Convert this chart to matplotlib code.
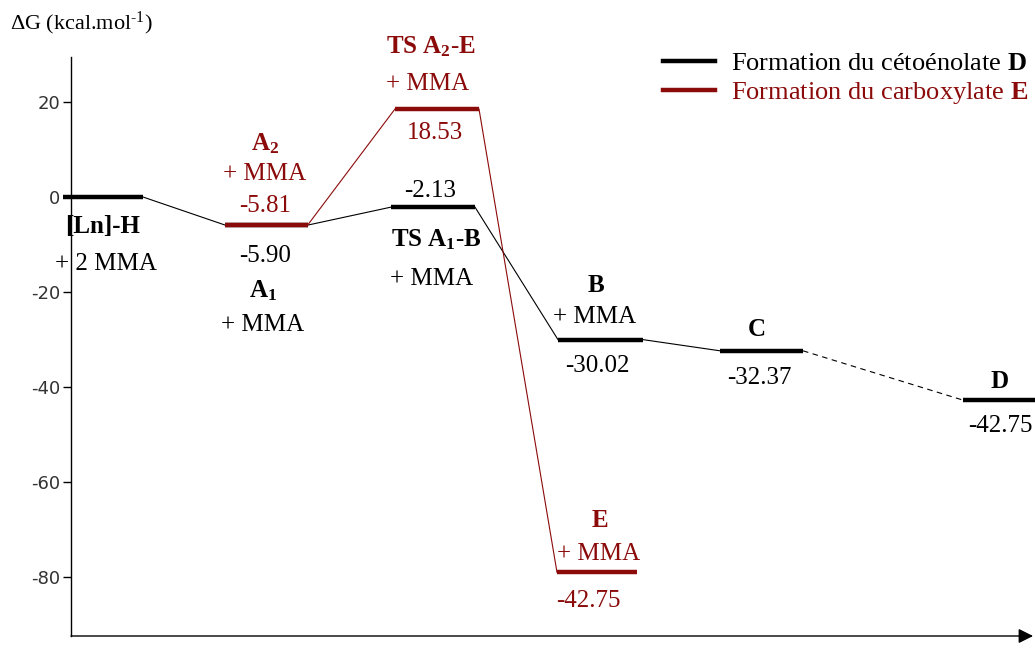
import matplotlib
matplotlib.use('Agg')
import matplotlib.pyplot as plt
from matplotlib.lines import Line2D

plt.rcParams['font.family'] = ['Liberation Serif', 'DejaVu Serif']
plt.rcParams['mathtext.fontset'] = 'custom'
plt.rcParams['mathtext.rm'] = 'Liberation Serif'
plt.rcParams['mathtext.bf'] = 'Liberation Serif:bold'
plt.rcParams['mathtext.it'] = 'Liberation Serif:italic'

RED = '#8b0a0a'

# energies (kcal/mol)
black_names = ['LnH', 'A1', 'TS_A1B', 'B', 'C', 'D']
black_energy = [0.0, -5.90, -2.13, -30.02, -32.37, -42.75]
red_names = ['A2', 'TS_A2E', 'E']
red_energy = [-5.81, 18.53, -79.0]
red_value_labels = ['-5.81', '18.53', '-42.75']
yticks = [20, 0, -20, -40, -60, -80]

# horizontal extent of each level (layout)
black_span = [(63, 143), (225, 308), (391, 475), (558, 643), (720, 803), (963, 1045)]
red_span = [(225, 308), (395, 479), (557, 637)]

fig = plt.figure(figsize=(10.35, 6.48), dpi=100)
ax = fig.add_axes([71 / 1035, 1 - 636 / 648, 964 / 1035, (636 - 57) / 648])
ax.set_xlim(71, 1035)
ax.set_ylim(-92.4, 29.47)

# levels
for (x0, x1), e in zip(black_span, black_energy):
    ax.plot([x0, x1], [e, e], color='black', lw=3.2, solid_capstyle='butt', clip_on=False, zorder=3)
for (x0, x1), e in zip(red_span, red_energy):
    ax.plot([x0, x1], [e, e], color=RED, lw=3.2, solid_capstyle='butt', clip_on=False, zorder=4)

# connectors
for i in range(len(black_energy) - 1):
    ls = '--' if black_names[i + 1] == 'D' else '-'
    ax.plot([black_span[i][1], black_span[i + 1][0]], [black_energy[i], black_energy[i + 1]],
            color='black', lw=0.8, ls=ls, dashes=(5, 4) if ls == '--' else (None, None), zorder=2)
for i in range(len(red_energy) - 1):
    ax.plot([red_span[i][1], red_span[i + 1][0]], [red_energy[i], red_energy[i + 1]],
            color=RED, lw=0.8, zorder=2)

fs = 18
def lab(x, y, s, color='black', bold=False):
    ax.text(x, y, s, ha='center', va='baseline', fontsize=fs, color=color,
            fontweight='bold' if bold else 'normal', clip_on=False)

# black labels
lab(103, -7.6, '[Ln]-H', bold=True)
lab(106, -15.4, '+ 2 MMA')
lab(265, -13.7, '%.2f' % black_energy[1])
lab(263, -21.1, r'$\mathbf{A}_{\mathbf{1}}$')
lab(263, -28.2, '+ MMA')
lab(430, 0.0, '%.2f' % black_energy[2])
lab(436, -10.5, r'$\mathbf{TS\ A}_{\mathbf{1}}\mathbf{\text{-}B}$')
lab(432, -18.5, '+ MMA')
lab(596, -20.0, 'B', bold=True)
lab(595, -26.5, '+ MMA')
lab(597, -36.8, '%.2f' % black_energy[3])
lab(757, -29.3, 'C', bold=True)
lab(759, -39.4, '%.2f' % black_energy[4])
lab(1000, -40.2, 'D', bold=True)
lab(1000, -49.5, '%.2f' % black_energy[5])

# red labels
lab(265, 9.9, r'$\mathbf{A}_{\mathbf{2}}$', color=RED)
lab(265, 3.6, '+ MMA', color=RED)
lab(265, -3.2, red_value_labels[0], color=RED)
lab(431, 30.3, r'$\mathbf{TS\ A}_{\mathbf{2}}\mathbf{\text{-}E}$', color=RED)
lab(428, 22.5, '+ MMA', color=RED)
lab(435, 12.2, red_value_labels[1], color=RED)
lab(600, -69.5, 'E', color=RED, bold=True)
lab(599, -76.4, '+ MMA', color=RED)
lab(588, -86.3, red_value_labels[2], color=RED)

# axes styling
for s in ['top', 'right', 'bottom']:
    ax.spines[s].set_visible(False)
ax.spines['left'].set_linewidth(1.0)
ax.set_xticks([])
ax.set_yticks(yticks)
ax.set_yticklabels([str(t) for t in yticks], family='DejaVu Sans', fontsize=13, color='#333333')
ax.tick_params(axis='y', length=6, width=1, pad=2)
ax.annotate('', xy=(0.998, 0), xytext=(0, 0), xycoords='axes fraction',
            arrowprops=dict(arrowstyle='-|>', lw=1.0, color='black', mutation_scale=22,
                            shrinkA=0, shrinkB=0))

fig.text(10 / 1035, 1 - 29 / 648, r'ΔG (kcal.mol$^{\text{-}1}$)', fontsize=16, va='baseline')

handles = [Line2D([], [], color='black', lw=3.2), Line2D([], [], color=RED, lw=3.2)]
labels = [r'Formation du cétoénolate $\mathbf{D}$', r'Formation du carboxylate $\mathbf{E}$']
leg = fig.legend(handles, labels, loc='upper left', bbox_to_anchor=(652 / 1035, 1 - 41 / 648),
                 frameon=False, fontsize=19, handlelength=2.0, handletextpad=0.6,
                 labelspacing=0.2, borderaxespad=0)
leg.get_texts()[1].set_color(RED)

fig.savefig('out.png', dpi=100)
